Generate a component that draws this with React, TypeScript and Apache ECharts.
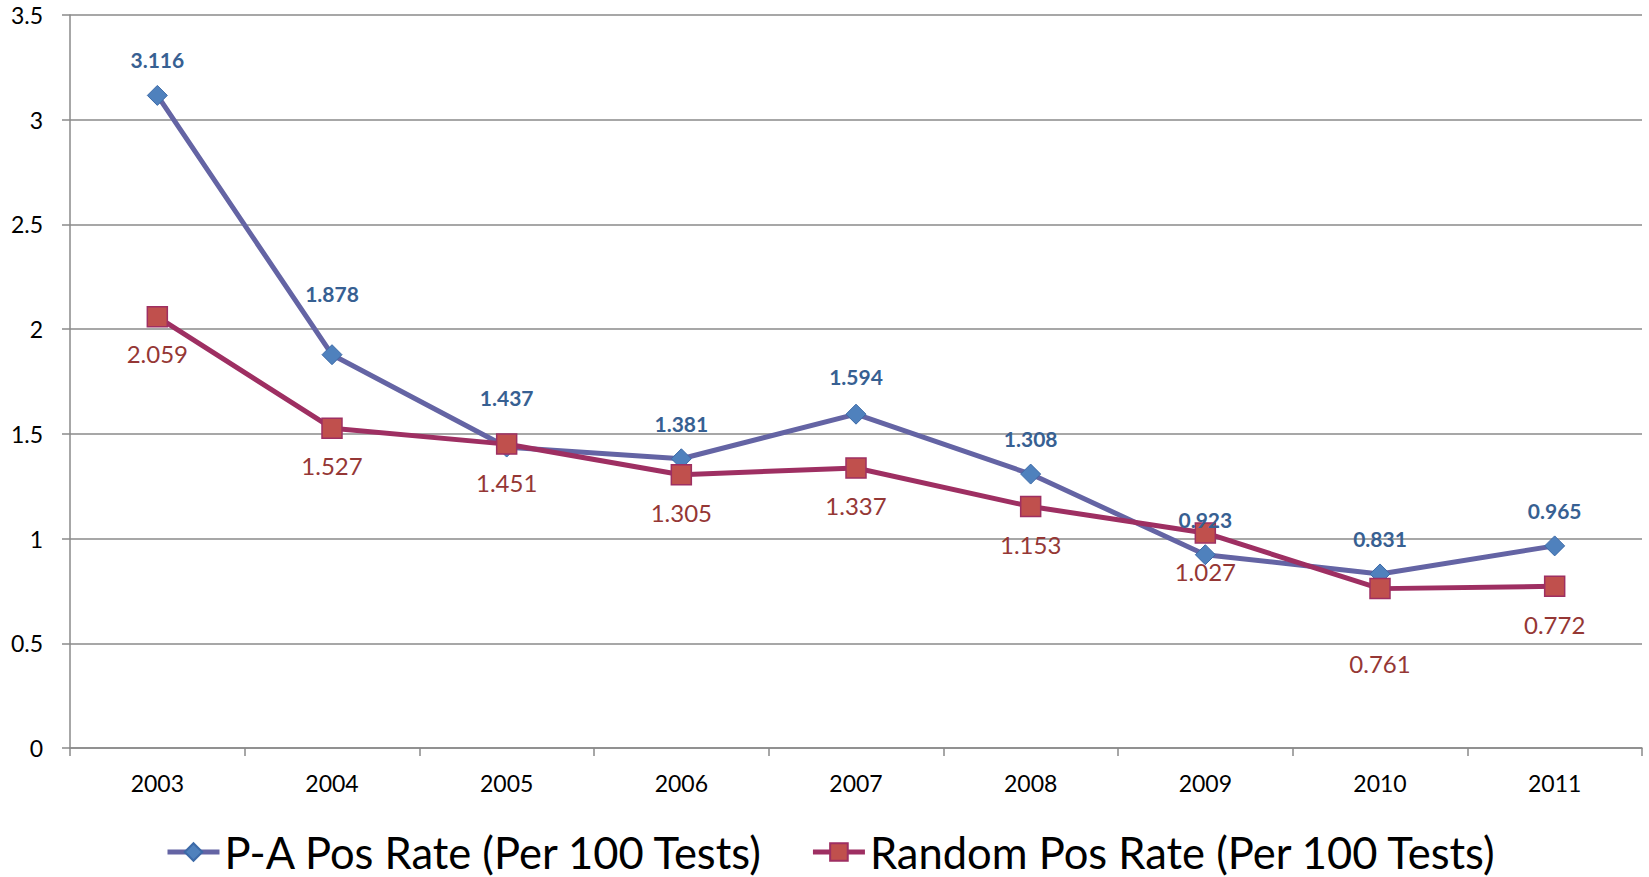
import React, { useEffect, useRef } from "react";
import * as echarts from "echarts";

const years = ["2003", "2004", "2005", "2006", "2007", "2008", "2009", "2010", "2011"];
const paRate = [3.116, 1.878, 1.437, 1.381, 1.594, 1.308, 0.923, 0.831, 0.965];
const randomRate = [2.059, 1.527, 1.451, 1.305, 1.337, 1.153, 1.027, 0.761, 0.772];
const seriesNames = ["P-A Pos Rate (Per 100 Tests)", "Random Pos Rate (Per 100 Tests)"];
// label distances (a few labels in the reference sit further from their point)
const paLabelDistance = [15, 40, 29, 14, 17, 15, 14, 14, 14];
const randomLabelDistance = [14, 15, 16, 15, 15, 15, 16, 52, 15];

const FONT = "Lato";

export default function App() {
  const ref = useRef<HTMLDivElement>(null);
  useEffect(() => {
    const chart = echarts.init(ref.current!, null, { renderer: "svg" });
    chart.setOption({
      animation: false,
      backgroundColor: "#ffffff",
      grid: { left: 70, right: 7, top: 15, bottom: 129, containLabel: false },
      legend: {
        data: seriesNames,
        left: 165,
        top: 830,
        padding: 0,
        itemWidth: 52,
        itemHeight: 22,
        itemGap: 46,
        lineStyle: { width: 5 },
        textStyle: { fontFamily: FONT, fontSize: 43.5, lineHeight: 44, color: "#000000", padding: [0, 0, 0, 0] },
      },
      xAxis: {
        type: "category",
        data: years,
        boundaryGap: true,
        axisLine: { show: true, lineStyle: { color: "#8a8a8a", width: 1.5 } },
        axisTick: { show: true, length: 8, inside: false, lineStyle: { color: "#8a8a8a", width: 1.5 } },
        axisLabel: { fontFamily: FONT, fontSize: 23, color: "#000000", margin: 23 },
        splitLine: { show: false },
      },
      yAxis: {
        type: "value",
        min: 0,
        max: 3.5,
        interval: 0.5,
        axisLine: { show: true, lineStyle: { color: "#8a8a8a", width: 1.5 } },
        axisTick: { show: true, length: 8, inside: false, lineStyle: { color: "#8a8a8a", width: 1.5 } },
        axisLabel: { fontFamily: FONT, fontSize: 23, color: "#000000", margin: 27 },
        splitLine: { show: true, lineStyle: { color: "#8a8a8a", width: 1.5 } },
      },
      series: [
        {
          name: seriesNames[0],
          type: "line",
          data: paRate.map((v, i) => ({ value: v, label: { distance: paLabelDistance[i] } })),
          symbol: "diamond",
          symbolSize: 20,
          lineStyle: { color: "#6464A4", width: 5 },
          itemStyle: { color: "#4F81BD", borderColor: "#3C6AA8", borderWidth: 1 },
          label: {
            show: true,
            position: "top",
            fontFamily: FONT,
            fontSize: 21,
            fontWeight: "bold",
            color: "#376092",
            formatter: (p: any) => Number(p.value).toFixed(3),
          },
        },
        {
          name: seriesNames[1],
          type: "line",
          data: randomRate.map((v, i) => ({ value: v, label: { distance: randomLabelDistance[i] } })),
          symbol: "rect",
          symbolSize: 20,
          lineStyle: { color: "#9E2F62", width: 5 },
          itemStyle: { color: "#C0504D", borderColor: "#9E2F62", borderWidth: 1.5 },
          label: {
            show: true,
            position: "bottom",
            fontFamily: FONT,
            fontSize: 24,
            color: "#953735",
            formatter: (p: any) => Number(p.value).toFixed(3),
          },
        },
      ],
    });
    return () => chart.dispose();
  }, []);
  return (
    <div
      ref={ref}
      style={{ position: "absolute", left: 0, top: 0, width: 1649, height: 877, background: "#ffffff" }}
    />
  );
}
